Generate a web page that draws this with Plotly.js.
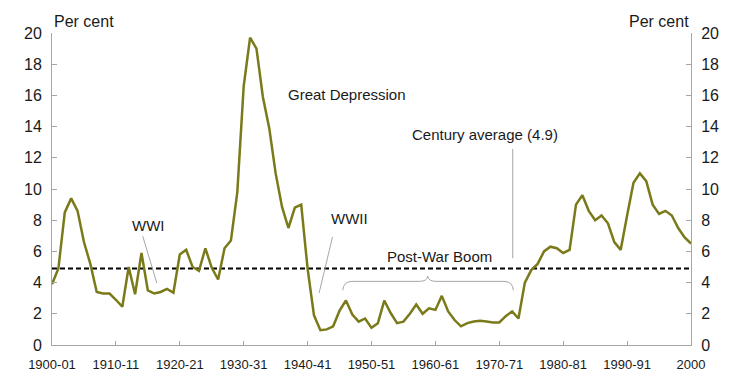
<!DOCTYPE html>
<html>
<head>
<meta charset="utf-8">
<script src="https://cdn.plot.ly/plotly-3.0.1.min.js"></script>
<style>html,body{margin:0;padding:0;background:#fff;}#chart{width:754px;height:384px;}</style>
</head>
<body>
<div id="chart"></div>
<script>
// Financial year start (1900 = 1900-01 ... 2000 = 2000-01)
var firstYear = 1900;
var unemployment = [3.9,4.9,8.5,9.4,8.6,6.6,5.2,3.4,3.3,3.3,
  2.9,2.45,5.0,3.25,5.9,3.5,3.3,3.4,3.6,3.35,
  5.8,6.1,5.0,4.75,6.2,4.95,4.2,6.2,6.7,9.8,
  16.6,19.7,19.0,15.9,13.9,11.0,8.85,7.5,8.8,9.0,
  4.9,1.9,0.95,1.0,1.2,2.2,2.85,1.95,1.5,1.7,
  1.1,1.4,2.85,2.05,1.4,1.5,2.0,2.6,2.0,2.35,
  2.25,3.15,2.15,1.6,1.2,1.4,1.5,1.55,1.5,1.45,
  1.45,1.85,2.15,1.7,4.0,4.8,5.2,6.0,6.3,6.2,
  5.9,6.1,9.0,9.6,8.6,8.0,8.3,7.8,6.6,6.1,
  8.3,10.4,11.0,10.5,9.0,8.4,8.6,8.3,7.5,6.9,6.5];
var years = unemployment.map(function(_, i){ return firstYear + i; });
var centuryAverage = 4.9;
var tickYears = [1900,1910,1920,1930,1940,1950,1960,1970,1980,1990,2000];
var tickLabels = ["1900-01","1910-11","1920-21","1930-31","1940-41","1950-51","1960-61","1970-71","1980-81","1990-91","2000"];
var yTicks = [0,2,4,6,8,10,12,14,16,18,20];

var font = "Arial, 'Liberation Sans', sans-serif";
var gray = "#a6a6a6";

var traces = [
  {x: [years[0], years[years.length-1]], y: [centuryAverage, centuryAverage], mode: "lines",
   line: {color: "#000", width: 2, dash: "5px,3px"}, hoverinfo: "skip", showlegend: false},
  {x: years, y: unemployment, mode: "lines", line: {color: "#7a7a1a", width: 2.5}, showlegend: false},
  {x: [years[0]], y: [0], yaxis: "y2", mode: "markers", marker: {opacity: 0}, showlegend: false, hoverinfo: "skip"}
];

var axY = {range: [0, 20], tickvals: yTicks, ticks: "inside", ticklen: 5, tickcolor: gray,
  showline: true, linecolor: gray, linewidth: 1, showgrid: false, zeroline: false,
  tickfont: {family: font, size: 16, color: "#1a1a1a"}, ticklabelstandoff: 6, fixedrange: true};

var layout = {
  width: 754, height: 384,
  margin: {l: 52, r: 63, t: 33, b: 39},
  paper_bgcolor: "#fff", plot_bgcolor: "#fff",
  showlegend: false,
  xaxis: {range: [1900, 2000], tickvals: tickYears, ticktext: tickLabels, ticks: "inside", ticklen: 4,
    tickcolor: gray, showline: true, linecolor: gray, linewidth: 1, showgrid: false, zeroline: false,
    tickfont: {family: font, size: 13, color: "#1a1a1a"}, ticklabelstandoff: 7},
  yaxis: axY,
  yaxis2: Object.assign({}, axY, {overlaying: "y", side: "right"}),
  annotations: [
    {xref: "paper", yref: "paper", x: 0, y: 1, yshift: 12, xanchor: "left", yanchor: "middle", text: "Per cent", showarrow: false, font: {family: font, size: 16, color: "#1a1a1a"}},
    {xref: "paper", yref: "paper", x: 1, y: 1, yshift: 12, xanchor: "right", yanchor: "middle", text: "Per cent", showarrow: false, font: {family: font, size: 16, color: "#1a1a1a"}},
    {x: 1946.1, y: 16.05, text: "Great Depression", showarrow: false, font: {family: font, size: 15, color: "#1a1a1a"}},
    {x: 1967.7, y: 13.47, text: "Century average (4.9)", showarrow: false, font: {family: font, size: 15, color: "#1a1a1a"}},
    {x: 1915.1, y: 7.69, text: "WWI", showarrow: false, font: {family: font, size: 15, color: "#1a1a1a"}},
    {x: 1946.6, y: 8.12, text: "WWII", showarrow: false, font: {family: font, size: 15, color: "#1a1a1a"}},
    {x: 1960.7, y: 5.69, text: "Post-War Boom", showarrow: false, font: {family: font, size: 15, color: "#1a1a1a"}}
  ],
  shapes: [
    {type: "line", x0: 1914.2, y0: 6.98, x1: 1916.4, y1: 3.97, line: {color: gray, width: 1}},
    {type: "line", x0: 1943.9, y0: 6.93, x1: 1941.8, y1: 3.33, line: {color: gray, width: 1}},
    {type: "line", x0: 1972.1, y0: 12.57, x1: 1972.1, y1: 5.56, line: {color: gray, width: 1}},
    {type: "path", path: "M1945.5,3.5 Q1945.6,4.08 1947,4.08 L1957.5,4.08 Q1958.7,4.08 1958.8,4.41 Q1958.9,4.08 1960.1,4.08 L1970.7,4.08 Q1972.1,4.08 1972.2,3.5",
     line: {color: gray, width: 1}}
  ]
};

Plotly.newPlot("chart", traces, layout, {staticPlot: true, displayModeBar: false});
</script>
</body>
</html>
